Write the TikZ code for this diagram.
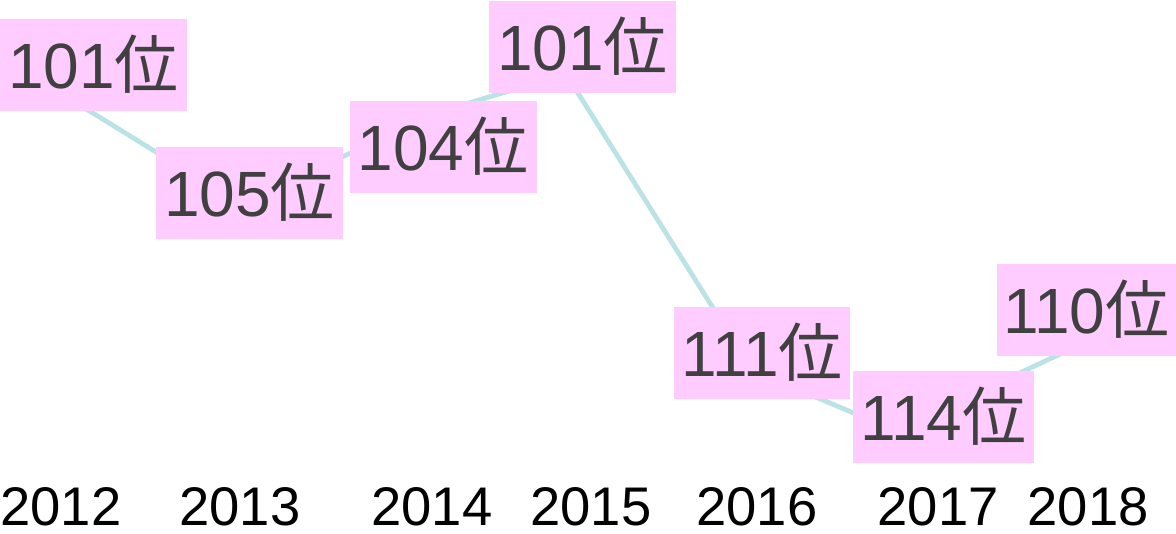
\documentclass[tikz,border=0pt]{standalone}
\usepackage{fontspec}
\setmainfont{Liberation Sans}
\newfontfamily\cjk{Noto Sans CJK JP}
\definecolor{rankpink}{HTML}{FFCCFF}
\definecolor{rankline}{HTML}{BBE2E5}
\definecolor{ranktext}{HTML}{404040}
\newcommand{\rankof}[1]{#1{\cjk 位}}
\begin{document}
\begin{tikzpicture}[x=0.5pt, y=-0.5pt,
    rankbox/.style={fill=rankpink, text=ranktext, inner sep=0pt,
        minimum width=93.5pt, minimum height=46pt,
        text height=23.4pt, text depth=0pt,
        font=\fontsize{32pt}{38pt}\selectfont},
    yearlabel/.style={inner sep=0pt, text height=19.5pt, text depth=0pt,
        font=\fontsize{27.2pt}{32pt}\selectfont}]
            \useasboundingbox (0, 0) rectangle (1176, 534);

            \coordinate (p2012) at (62, 94);
            \coordinate (p2013) at (242, 205);
            \coordinate (p2014) at (432, 114);
            \coordinate (p2015) at (566, 74);
            \coordinate (p2016) at (752, 370);
            \coordinate (p2017) at (896, 431);
            \coordinate (p2018) at (1090, 340);
            \draw[rankline, line width=2.4pt, line join=round]
                (p2012) -- (p2013) -- (p2014) -- (p2015) -- (p2016) -- (p2017) -- (p2018);

            \node[rankbox] (r2012) at (93.5, 65) {\rankof{101}};
            \node[rankbox] (r2013) at (249.5, 193) {\rankof{105}};
            \node[rankbox] (r2014) at (443, 147.5) {\rankof{104}};
            \node[rankbox] (r2015) at (582.5, 47) {\rankof{101}};
            \node[rankbox, minimum width=88pt] (r2016) at (762, 353) {\rankof{111}};
            \node[rankbox, minimum width=90.5pt] (r2017) at (943.5, 417) {\rankof{114}};
            \node[rankbox, minimum width=89.5pt] (r2018) at (1086.5, 310) {\rankof{110}};

            \foreach \x/\yr in {61/2012, 240/2013, 432/2014, 591/2015, 757/2016, 938/2017, 1088/2018} {
                \node[yearlabel] (y\yr) at (\x, 506) {\yr};
            }
        \end{tikzpicture}
\end{document}
